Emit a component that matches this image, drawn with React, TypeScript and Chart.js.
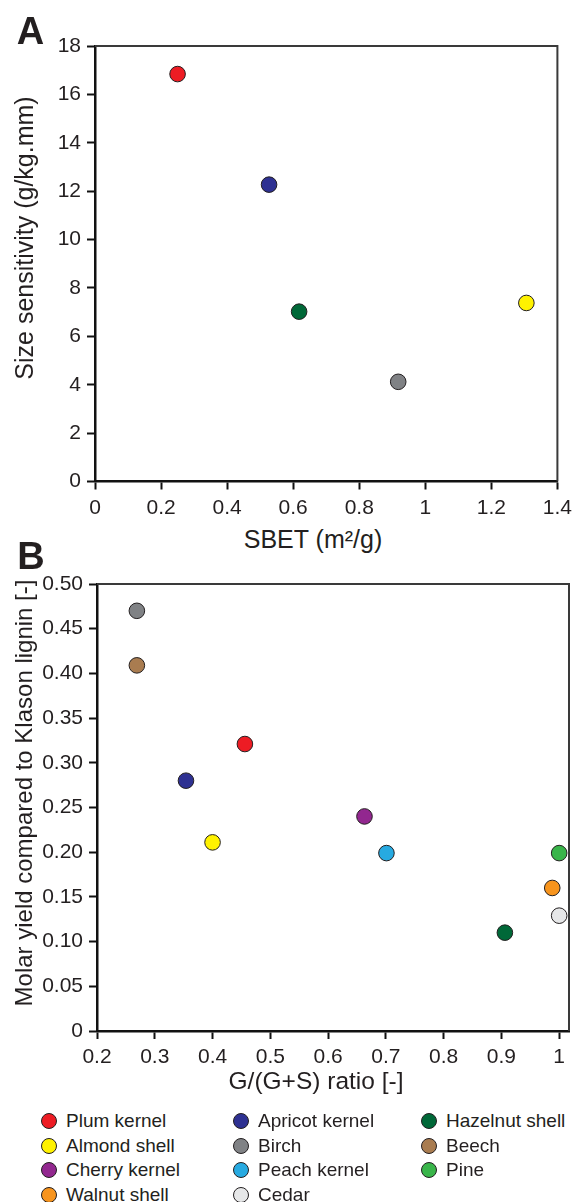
import React, { useEffect, useRef } from 'react';
import { Chart, registerables } from 'chart.js';

Chart.register(...registerables);

// ---------- data ----------
const materialColors: Record<string, string> = {
  'Plum kernel': '#ed1c24',
  'Almond shell': '#fff200',
  'Cherry kernel': '#92278f',
  'Walnut shell': '#f7941d',
  'Apricot kernel': '#2e3192',
  'Birch': '#808285',
  'Peach kernel': '#27aae1',
  'Cedar': '#e6e7e8',
  'Hazelnut shell': '#006838',
  'Beech': '#a97c50',
  'Pine': '#39b54a',
};

// Panel A
const materialsA = ['Plum kernel', 'Apricot kernel', 'Hazelnut shell', 'Birch', 'Almond shell'];
const sbetA = [0.25, 0.527, 0.618, 0.918, 1.306];
const sizeSensitivityA = [16.84, 12.27, 7.02, 4.12, 7.38];
const xTicksA = [0, 0.2, 0.4, 0.6, 0.8, 1, 1.2, 1.4];
const yTicksA = [0, 2, 4, 6, 8, 10, 12, 14, 16, 18];

// Panel B
const materialsB = ['Plum kernel', 'Almond shell', 'Cherry kernel', 'Walnut shell', 'Apricot kernel', 'Birch', 'Peach kernel', 'Cedar', 'Hazelnut shell', 'Beech', 'Pine'];
const gRatioB = [0.456, 0.4, 0.663, 0.988, 0.354, 0.269, 0.701, 1.0, 0.906, 0.269, 1.0];
const molarYieldB = [0.321, 0.211, 0.24, 0.16, 0.28, 0.47, 0.199, 0.129, 0.11, 0.409, 0.199];
const xTicksB = [0.2, 0.3, 0.4, 0.5, 0.6, 0.7, 0.8, 0.9, 1];
const yTicksB = [0, 0.05, 0.1, 0.15, 0.2, 0.25, 0.3, 0.35, 0.4, 0.45, 0.5];

const legendColumns = [
  ['Plum kernel', 'Almond shell', 'Cherry kernel', 'Walnut shell'],
  ['Apricot kernel', 'Birch', 'Peach kernel', 'Cedar'],
  ['Hazelnut shell', 'Beech', 'Pine'],
];

// ---------- helpers ----------
const FONT = '"Liberation Sans", Arial, Helvetica, sans-serif';

const framePlugin = {
  id: 'frameTopRight',
  beforeDatasetsDraw(chart: any) {
    const { ctx, chartArea } = chart;
    const { left, top, right, bottom } = chartArea;
    ctx.save();
    ctx.strokeStyle = '#3a3a3a';
    ctx.lineWidth = 2;
    ctx.beginPath();
    ctx.moveTo(left, top);
    ctx.lineTo(right, top);
    ctx.lineTo(right, bottom);
    ctx.stroke();
    ctx.restore();
  },
};

function makeDatasets(names: string[], xs: number[], ys: number[]) {
  return names.map((name, i) => ({
    label: name,
    data: [{ x: xs[i], y: ys[i] }],
    backgroundColor: materialColors[name],
    borderColor: '#231f20',
    borderWidth: 1,
    pointRadius: 7.8,
    pointHoverRadius: 7.8,
  }));
}

function axis(min: number, max: number, ticks: number[], fmt: (v: number) => string, size: number, isY: boolean) {
  return {
    type: 'linear',
    min,
    max,
    afterBuildTicks(scale: any) {
      scale.ticks = ticks.map((v) => ({ value: v }));
    },
    afterFit(scale: any) {
      if (isY) scale.width = size;
      else scale.height = size;
    },
    border: { display: true, color: '#111', width: 2.5 },
    grid: {
      drawOnChartArea: false,
      drawTicks: true,
      tickLength: 8,
      tickColor: '#111',
      tickWidth: 2,
    },
    ticks: {
      color: '#231f20',
      font: { family: FONT, size: 21 },
      padding: 6,
      autoSkip: false,
      maxRotation: 0,
      callback: (v: number) => fmt(v),
    },
    title: { display: false },
  };
}

function ScatterCanvas({ config, top, height }: { config: any; top: number; height: number }) {
  const ref = useRef<HTMLCanvasElement | null>(null);
  useEffect(() => {
    if (!ref.current) return;
    const chart = new Chart(ref.current, config);
    return () => chart.destroy();
  }, [config]);
  return (
    <canvas
      ref={ref}
      width={578}
      height={height}
      style={{ position: 'absolute', left: 0, top, width: 578, height }}
    />
  );
}

const configA = {
  type: 'scatter',
  data: { datasets: makeDatasets(materialsA, sbetA, sizeSensitivityA) },
  options: {
    responsive: false,
    animation: false,
    devicePixelRatio: 1,
    layout: { autoPadding: false, padding: { top: 46, right: 15, left: 0, bottom: 0 } },
    plugins: { legend: { display: false }, tooltip: { enabled: false } },
    scales: {
      x: axis(0, 1.4, xTicksA, (v) => String(v), 38.5, false),
      y: axis(0, 18, yTicksA, (v) => String(v), 95, true),
    },
  },
  plugins: [framePlugin],
};

const configB = {
  type: 'scatter',
  data: { datasets: makeDatasets(materialsB, gRatioB, molarYieldB) },
  options: {
    responsive: false,
    animation: false,
    devicePixelRatio: 1,
    layout: { autoPadding: false, padding: { top: 24, right: 9, left: 0, bottom: 0 } },
    plugins: { legend: { display: false }, tooltip: { enabled: false } },
    scales: {
      x: axis(0.2, 1.017, xTicksB, (v) => String(v), 39, false),
      y: axis(0, 0.5, yTicksB, (v) => (v === 0 ? '0' : v.toFixed(2)), 97, true),
    },
  },
  plugins: [framePlugin],
};

function Label({ text, cx, cy, size, bold, rotate }: { text: string; cx: number; cy: number; size: number; bold?: boolean; rotate?: boolean }) {
  return (
    <div
      style={{
        position: 'absolute',
        left: cx,
        top: cy,
        transform: `translate(-50%, -50%)${rotate ? ' rotate(-90deg)' : ''}`,
        fontFamily: FONT,
        fontSize: size,
        fontWeight: bold ? 700 : 400,
        lineHeight: `${size}px`,
        whiteSpace: 'nowrap',
        color: '#231f20',
      }}
    >
      {text}
    </div>
  );
}

const legendColX = [41, 233, 421];
const legendRowY = [1121, 1145.5, 1170, 1194.5];

export default function App() {
  return (
    <div style={{ position: 'absolute', left: 0, top: 0, width: 578, height: 1202, overflow: 'hidden', background: '#fff' }}>
      <ScatterCanvas config={configA} top={0} height={520} />
      <ScatterCanvas config={configB} top={560} height={510} />

      <Label text="A" cx={30.5} cy={31} size={38} bold />
      <Label text="B" cx={31} cy={556} size={38} bold />

      <Label text="SBET (m²/g)" cx={313} cy={539} size={25} />
      <Label text="Size sensitivity (g/kg.mm)" cx={24} cy={238} size={25} rotate />

      <Label text="G/(G+S) ratio [-]" cx={316} cy={1081} size={24.5} />
      <Label text="Molar yield compared to Klason lignin [-]" cx={24} cy={793} size={24} rotate />

      {legendColumns.map((col, ci) =>
        col.map((name, ri) => (
          <div
            key={name}
            style={{
              position: 'absolute',
              left: legendColX[ci],
              top: legendRowY[ri] - 12,
              height: 24,
              display: 'flex',
              alignItems: 'center',
              fontFamily: FONT,
              fontSize: 19,
              color: '#231f20',
              whiteSpace: 'nowrap',
            }}
          >
            <span
              style={{
                display: 'inline-block',
                width: 14,
                height: 14,
                borderRadius: '50%',
                background: materialColors[name],
                border: '1px solid #231f20',
                marginRight: 9,
              }}
            />
            <span>{name}</span>
          </div>
        ))
      )}
    </div>
  );
}
